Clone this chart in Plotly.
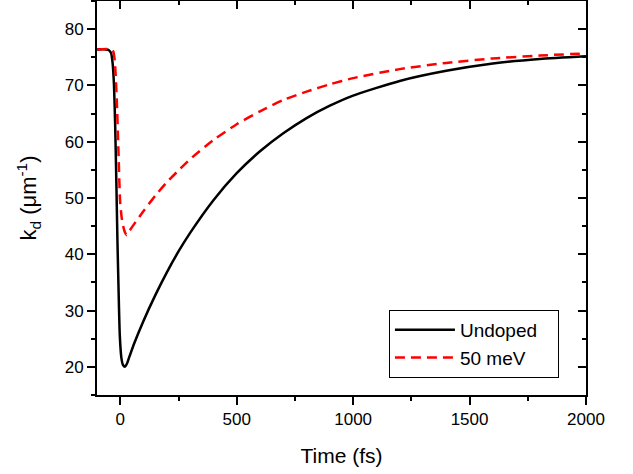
import plotly.graph_objects as go

# Undoped (black solid)
t_undoped = [-100, -60, -50, -40, -33, -27, -22, -17, -12, -7, -2, 5, 12, 20, 28, 40,
             60, 100, 150, 200, 250, 300, 400, 500, 600, 700, 800, 900, 1000,
             1200, 1400, 1600, 1800, 2000]
k_undoped = [76.4, 76.4, 76.3, 75.8, 74.0, 70.0, 63.0, 53.0, 42.0, 33.0, 25.5, 21.5, 20.3, 20.0, 20.5, 21.9,
             24.2, 28.2, 32.7, 36.8, 40.5, 43.8, 49.6, 54.4, 58.3, 61.5, 64.2, 66.4, 68.2,
             70.8, 72.6, 73.9, 74.7, 75.2]

# 50 meV (red dashed)
t_50mev = [-100, -40, -30, -23, -15, -8, -1, 6, 13, 20, 27, 40, 60, 100, 150, 200, 250, 300,
           400, 500, 600, 700, 800, 900, 1000, 1200, 1400, 1600, 1800, 2000]
k_50mev = [76.4, 76.4, 76.0, 74.0, 67.4, 58.5, 49.6, 46.5, 44.9, 43.9, 43.4, 44.2, 45.4, 47.7, 50.4, 52.8, 54.9, 56.9,
           60.3, 63.1, 65.4, 67.4, 68.9, 70.2, 71.3, 72.9, 74.0, 74.8, 75.3, 75.7]

series_names = ["Undoped", "50 meV"]

x_range = [-100, 2000]
y_range = [15, 85]
x_ticks = [0, 500, 1000, 1500, 2000]
y_ticks = [20, 30, 40, 50, 60, 70, 80]

FONT = "Liberation Sans, Arial, sans-serif"
PAD = "\u00a0\u00a0\u00a0"  # right padding inside the legend box

fig = go.Figure()
fig.add_trace(go.Scatter(x=t_undoped, y=k_undoped, mode="lines", name=series_names[0] + PAD,
                         line=dict(color="black", width=2.5, shape="spline", smoothing=0.6)))
fig.add_trace(go.Scatter(x=t_50mev, y=k_50mev, mode="lines", name=series_names[1],
                         line=dict(color="#ff0000", width=2.5, dash="10px,6px", shape="spline", smoothing=0.6)))
# invisible trace to carry the mirrored (inward-tick) axes
fig.add_trace(go.Scatter(x=[None], y=[None], xaxis="x2", yaxis="y2", showlegend=False,
                         hoverinfo="skip", mode="lines"))

common = dict(showgrid=False, zeroline=False, showline=True, linecolor="black", linewidth=2,
              tickcolor="black", tickwidth=2, ticklen=8, automargin=False)

fig.update_layout(
    width=633, height=474,
    margin=dict(l=97, r=47, t=1, b=79),
    paper_bgcolor="white", plot_bgcolor="white",
    font=dict(family=FONT, size=17, color="black"),
    showlegend=True,
    legend=dict(x=0.597, y=0.216, xanchor="left", yanchor="top",
                bordercolor="black", borderwidth=1, bgcolor="white",
                itemwidth=60,
                font=dict(size=19, family=FONT), tracegroupgap=0),
    xaxis=dict(range=x_range, tickvals=x_ticks, ticks="outside",
               minor=dict(dtick=250, tick0=0, ticks="outside", ticklen=4, tickcolor="black", tickwidth=2),
               title=dict(text="Time (fs)", font=dict(size=21), standoff=20),
               **common),
    yaxis=dict(range=y_range, tickvals=y_ticks, ticks="outside",
               minor=dict(dtick=5, tick0=0, ticks="outside", ticklen=4, tickcolor="black", tickwidth=2),
               title=dict(text="k<sub>d</sub> (μm<sup>-1</sup>)", font=dict(size=22), standoff=22),
               **common),
    xaxis2=dict(range=x_range, tickvals=x_ticks, ticks="inside", overlaying="x", side="top",
                anchor="y2", showticklabels=False,
                minor=dict(dtick=250, tick0=0, ticks="inside", ticklen=4, tickcolor="black", tickwidth=2),
                **common),
    yaxis2=dict(range=y_range, tickvals=y_ticks, ticks="inside", overlaying="y", side="right",
                anchor="x2", showticklabels=False,
                minor=dict(dtick=5, tick0=0, ticks="inside", ticklen=4, tickcolor="black", tickwidth=2),
                **common),
)

fig.write_html("out.html", config={"displayModeBar": False},
               post_script="document.body.style.margin='0px';")
